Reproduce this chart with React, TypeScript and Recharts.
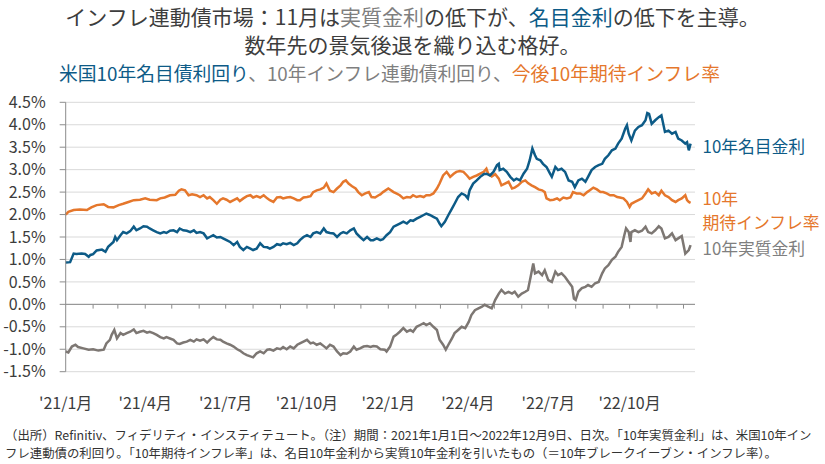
import React from 'react';
import { LineChart, Line, XAxis, YAxis, CartesianGrid, ReferenceLine } from 'recharts';

const FONT = '"Noto Sans CJK JP", "Noto Sans", sans-serif';
const BLUE = '#0d5b87';
const ORANGE = '#e5772c';
const GRAY = '#7d7773';
const GRAY_TEXT = '#7f7f7f';
const TEXT = '#3c3c3c';

// x = days since 2021-01-01
const nominalDays = [0, 5, 9, 12, 18, 22, 26, 28, 31, 35, 41, 45, 48, 54, 56, 58, 62, 65, 69, 73, 77, 80, 84, 88, 92, 95, 99, 103, 107, 111, 114, 118, 122, 126, 129, 133, 137, 141, 145, 148, 152, 156, 160, 163, 167, 171, 175, 178, 182, 186, 190, 194, 197, 201, 205, 209, 212, 216, 220, 224, 228, 231, 235, 239, 243, 246, 250, 254, 258, 262, 265, 269, 273, 277, 280, 284, 288, 292, 295, 299, 303, 307, 311, 314, 318, 322, 326, 329, 333, 337, 341, 345, 348, 352, 356, 359, 363, 367, 371, 374, 378, 382, 386, 390, 393, 397, 401, 405, 408, 412, 416, 420, 423, 425, 429, 433, 437, 440, 444, 448, 452, 455, 457, 461, 465, 469, 473, 476, 480, 484, 488, 490, 491, 495, 499, 503, 507, 510, 514, 518, 522, 525, 528, 531, 533, 537, 540, 544, 548, 550, 554, 557, 561, 565, 569, 573, 576, 580, 584, 588, 591, 595, 599, 603, 607, 610, 614, 618, 622, 625, 629, 633, 635, 637, 640, 644, 648, 652, 656, 658, 660, 663, 667, 671, 674, 678, 682, 686, 690, 693, 697, 701, 703, 705, 707];
const nominalYield = [0.93, 0.94, 1.13, 1.12, 1.13, 1.12, 1.06, 1.10, 1.12, 1.20, 1.22, 1.17, 1.28, 1.39, 1.50, 1.43, 1.54, 1.61, 1.58, 1.63, 1.73, 1.65, 1.69, 1.74, 1.73, 1.69, 1.65, 1.61, 1.58, 1.61, 1.59, 1.64, 1.65, 1.61, 1.69, 1.65, 1.64, 1.61, 1.65, 1.59, 1.61, 1.58, 1.47, 1.50, 1.54, 1.49, 1.50, 1.47, 1.43, 1.39, 1.32, 1.39, 1.28, 1.21, 1.28, 1.24, 1.21, 1.24, 1.36, 1.28, 1.27, 1.24, 1.28, 1.34, 1.32, 1.36, 1.34, 1.37, 1.32, 1.36, 1.43, 1.50, 1.54, 1.50, 1.58, 1.61, 1.58, 1.69, 1.61, 1.59, 1.58, 1.50, 1.58, 1.61, 1.58, 1.65, 1.69, 1.58, 1.50, 1.43, 1.50, 1.43, 1.43, 1.47, 1.43, 1.45, 1.54, 1.61, 1.73, 1.76, 1.80, 1.84, 1.80, 1.87, 1.86, 1.91, 1.95, 1.99, 2.02, 1.99, 1.95, 1.91, 1.80, 1.74, 1.84, 1.99, 2.13, 2.24, 2.39, 2.47, 2.43, 2.36, 2.54, 2.69, 2.76, 2.84, 2.90, 2.91, 2.87, 2.95, 3.10, 3.13, 2.99, 3.02, 2.95, 2.84, 2.76, 2.80, 2.76, 2.91, 3.02, 3.21, 3.47, 3.32, 3.24, 3.21, 3.13, 3.06, 2.91, 2.84, 3.06, 2.99, 3.02, 2.95, 2.76, 2.73, 2.61, 2.76, 2.80, 2.73, 2.84, 2.99, 3.06, 3.10, 3.13, 3.24, 3.32, 3.43, 3.47, 3.58, 3.69, 3.91, 3.99, 3.80, 3.65, 3.87, 3.95, 3.99, 4.10, 4.26, 4.24, 4.02, 4.10, 4.17, 4.21, 3.84, 3.87, 3.80, 3.84, 3.69, 3.65, 3.58, 3.61, 3.43, 3.58];

const breakevenDays = [0, 3, 9, 16, 24, 29, 35, 43, 48, 54, 60, 65, 71, 77, 84, 90, 95, 103, 107, 112, 118, 124, 128, 131, 135, 139, 143, 148, 152, 156, 160, 163, 167, 171, 175, 178, 182, 186, 190, 194, 197, 201, 205, 209, 212, 216, 220, 224, 228, 231, 235, 239, 243, 246, 250, 254, 258, 262, 265, 269, 273, 277, 280, 284, 288, 292, 295, 299, 303, 307, 311, 314, 317, 320, 324, 328, 331, 335, 339, 343, 346, 350, 354, 356, 359, 365, 371, 374, 378, 382, 386, 390, 393, 397, 401, 405, 408, 412, 416, 420, 423, 427, 431, 435, 439, 442, 446, 450, 454, 457, 461, 465, 469, 473, 476, 478, 482, 486, 490, 493, 497, 501, 505, 508, 512, 516, 520, 523, 527, 531, 535, 539, 542, 544, 548, 552, 556, 559, 563, 567, 571, 574, 578, 582, 586, 590, 593, 597, 601, 605, 608, 612, 616, 620, 624, 627, 631, 635, 638, 640, 644, 648, 652, 656, 659, 663, 667, 671, 674, 678, 682, 686, 690, 693, 697, 701, 703, 705, 707];
const breakevenRate = [2.00, 2.06, 2.10, 2.11, 2.10, 2.16, 2.21, 2.23, 2.17, 2.16, 2.21, 2.24, 2.28, 2.32, 2.33, 2.36, 2.33, 2.32, 2.36, 2.38, 2.43, 2.44, 2.53, 2.56, 2.54, 2.43, 2.45, 2.43, 2.39, 2.43, 2.36, 2.39, 2.32, 2.24, 2.33, 2.36, 2.33, 2.28, 2.32, 2.36, 2.30, 2.36, 2.41, 2.43, 2.38, 2.41, 2.38, 2.43, 2.36, 2.32, 2.28, 2.38, 2.39, 2.36, 2.38, 2.39, 2.36, 2.32, 2.32, 2.38, 2.39, 2.41, 2.50, 2.54, 2.56, 2.60, 2.69, 2.53, 2.50, 2.58, 2.65, 2.73, 2.76, 2.69, 2.63, 2.58, 2.50, 2.43, 2.47, 2.50, 2.39, 2.38, 2.43, 2.45, 2.50, 2.58, 2.50, 2.47, 2.43, 2.36, 2.39, 2.38, 2.43, 2.39, 2.41, 2.39, 2.43, 2.43, 2.47, 2.58, 2.69, 2.87, 2.95, 2.84, 2.91, 2.95, 2.97, 2.95, 2.87, 2.80, 2.84, 2.87, 2.91, 2.95, 3.02, 2.91, 2.85, 2.90, 2.80, 2.65, 2.69, 2.73, 2.58, 2.60, 2.65, 2.73, 2.76, 2.70, 2.65, 2.61, 2.56, 2.54, 2.50, 2.36, 2.32, 2.33, 2.36, 2.32, 2.38, 2.36, 2.38, 2.50, 2.47, 2.47, 2.43, 2.50, 2.54, 2.60, 2.56, 2.50, 2.50, 2.47, 2.43, 2.43, 2.39, 2.38, 2.36, 2.28, 2.17, 2.24, 2.28, 2.32, 2.36, 2.47, 2.56, 2.47, 2.50, 2.43, 2.53, 2.43, 2.39, 2.32, 2.28, 2.32, 2.36, 2.43, 2.32, 2.28, 2.26];

const realDays = [0, 3, 7, 11, 14, 20, 26, 31, 37, 43, 46, 50, 52, 55, 58, 62, 65, 69, 73, 77, 80, 84, 88, 92, 95, 99, 103, 107, 111, 114, 118, 122, 126, 129, 133, 137, 141, 145, 148, 152, 156, 160, 163, 167, 171, 175, 178, 182, 186, 190, 194, 197, 201, 205, 209, 212, 216, 220, 224, 228, 231, 235, 239, 243, 246, 250, 254, 258, 262, 265, 269, 273, 277, 280, 284, 288, 292, 295, 299, 303, 307, 311, 314, 318, 322, 326, 329, 333, 337, 341, 345, 348, 352, 356, 361, 363, 367, 371, 374, 378, 382, 386, 390, 393, 397, 401, 405, 408, 412, 416, 420, 423, 427, 430, 433, 437, 440, 444, 448, 452, 456, 459, 463, 467, 471, 474, 478, 482, 486, 490, 493, 497, 501, 505, 508, 512, 516, 520, 523, 526, 529, 531, 535, 539, 542, 546, 550, 554, 557, 561, 565, 569, 573, 575, 577, 580, 584, 588, 591, 595, 599, 603, 607, 610, 614, 618, 622, 625, 629, 632, 634, 637, 639, 640, 644, 648, 652, 656, 659, 663, 667, 671, 674, 678, 682, 686, 690, 693, 697, 701, 703, 705, 707];
const realYield = [-1.05, -1.07, -0.94, -0.90, -0.95, -0.98, -1.01, -1.00, -1.03, -1.01, -0.87, -0.79, -0.68, -0.57, -0.76, -0.64, -0.68, -0.64, -0.61, -0.56, -0.64, -0.61, -0.59, -0.63, -0.61, -0.64, -0.68, -0.73, -0.76, -0.73, -0.76, -0.79, -0.87, -0.88, -0.85, -0.83, -0.79, -0.83, -0.78, -0.81, -0.78, -0.85, -0.79, -0.73, -0.78, -0.79, -0.83, -0.87, -0.90, -0.94, -1.00, -1.03, -1.09, -1.13, -1.16, -1.18, -1.09, -1.05, -1.09, -1.01, -1.00, -1.03, -0.98, -1.00, -0.95, -1.00, -0.94, -0.98, -0.90, -0.87, -0.83, -0.79, -0.87, -0.85, -0.90, -0.87, -0.93, -0.98, -0.90, -0.94, -1.05, -1.13, -1.09, -1.10, -1.05, -0.94, -1.01, -0.98, -0.94, -0.93, -0.95, -0.93, -0.94, -1.00, -1.01, -1.05, -0.94, -0.72, -0.68, -0.61, -0.53, -0.61, -0.57, -0.61, -0.50, -0.46, -0.42, -0.46, -0.42, -0.50, -0.57, -0.79, -0.90, -1.01, -0.90, -0.76, -0.64, -0.57, -0.50, -0.53, -0.39, -0.24, -0.13, -0.09, -0.05, -0.01, -0.05, -0.09, 0.10, 0.24, 0.32, 0.24, 0.28, 0.24, 0.28, 0.17, 0.24, 0.28, 0.32, 0.61, 0.91, 0.69, 0.73, 0.65, 0.76, 0.54, 0.50, 0.73, 0.65, 0.69, 0.61, 0.50, 0.39, 0.13, 0.10, 0.28, 0.36, 0.39, 0.43, 0.39, 0.47, 0.50, 0.69, 0.80, 0.87, 0.99, 1.06, 1.17, 1.28, 1.54, 1.69, 1.61, 1.39, 1.61, 1.65, 1.61, 1.64, 1.73, 1.61, 1.58, 1.65, 1.74, 1.69, 1.47, 1.50, 1.58, 1.43, 1.47, 1.52, 1.13, 1.17, 1.21, 1.32];

const yTicks = [-1.5, -1.0, -0.5, 0, 0.5, 1.0, 1.5, 2.0, 2.5, 3.0, 3.5, 4.0, 4.5];
const xTickDays = [0, 90, 181, 273, 365, 455, 546, 638];
const xTickLabels = ["'21/1月", "'21/4月", "'21/7月", "'21/10月", "'22/1月", "'22/4月", "'22/7月", "'22/10月"];
const monthStartDays = [31, 59, 90, 120, 151, 181, 212, 243, 273, 304, 334, 365, 396, 424, 455, 485, 516, 546, 577, 608, 638, 669, 699];

const nominalLabel = ['10年名目金利'];
const breakevenLabel = ['10年', '期待インフレ率'];
const realLabel = ['10年実質金利'];

const toRows = (days: number[], vals: number[]) => days.map((d, i) => ({ d, v: vals[i] }));
const nominalData = toRows(nominalDays, nominalYield);
const breakevenData = toRows(breakevenDays, breakevenRate);
const realData = toRows(realDays, realYield);

const endLabel = (n: number, lines: string[], color: string, dy: number) => (props: any) => {
  if (props.index !== n - 1) return null;
  const x = (props.x ?? props.viewBox?.x) + 12;
  const y = (props.y ?? props.viewBox?.y) + dy;
  return (
    <g key="end">
      {lines.map((t, i) => (
        <text key={i} x={x} y={y + i * 24.5} fill={color} fontSize={16.8} fontFamily={FONT} dominantBaseline="central">
          {t}
        </text>
      ))}
    </g>
  );
};

const fmtY = (v: number) => `${v.toFixed(1)}%`;
const fmtX = (d: number) => xTickLabels[xTickDays.indexOf(d)] ?? '';

export default function App() {
  return (
    <div style={{ position: 'absolute', left: 0, top: 0, width: 825, height: 464, background: '#fff', fontFamily: FONT, overflow: 'hidden' }}>
      <div style={{ position: 'absolute', left: 0, top: 0 }}>
        <LineChart width={825} height={464} margin={{ top: 102.3, right: 130, bottom: 62.3, left: 0 }}>
          <CartesianGrid horizontal vertical={false} stroke="#d9d9d9" strokeWidth={1} />
          <XAxis
            type="number"
            dataKey="d"
            domain={[0, 712]}
            ticks={xTickDays}
            interval={0}
            tickFormatter={fmtX}
            axisLine={false}
            tickLine={false}
            tickSize={0}
            tickMargin={26}
            height={30}
            tick={{ fontSize: 16, fill: TEXT, fontFamily: FONT }}
            allowDuplicatedCategory={false}
          />
          <YAxis
            type="number"
            domain={[-1.5, 4.5]}
            ticks={yTicks}
            interval={0}
            tickFormatter={fmtY}
            width={65.7}
            axisLine={{ stroke: '#8c8c8c' }}
            tickLine={{ stroke: '#8c8c8c' }}
            tickSize={6}
            tickMargin={14}
            tick={{ fontSize: 16, fill: TEXT, fontFamily: FONT }}
          />
          <ReferenceLine y={0} stroke="#8c8c8c" strokeWidth={1} />
          {monthStartDays.map((d) => (
            <ReferenceLine key={d} segment={[{ x: d, y: 0 }, { x: d, y: -0.095 }]} stroke="#8c8c8c" strokeWidth={1} />
          ))}
          <Line
            data={realData}
            dataKey="v"
            type="linear"
            stroke={GRAY}
            strokeWidth={2.5}
            dot={false}
            isAnimationActive={false}
            label={endLabel(realData.length, realLabel, GRAY_TEXT, 3)}
          />
          <Line
            data={breakevenData}
            dataKey="v"
            type="linear"
            stroke={ORANGE}
            strokeWidth={2.5}
            dot={false}
            isAnimationActive={false}
            label={endLabel(breakevenData.length, breakevenLabel, ORANGE, -5)}
          />
          <Line
            data={nominalData}
            dataKey="v"
            type="linear"
            stroke={BLUE}
            strokeWidth={2.5}
            dot={false}
            isAnimationActive={false}
            label={endLabel(nominalData.length, nominalLabel, BLUE, 2)}
          />
        </LineChart>
      </div>
      <div style={{ position: 'absolute', left: 0, top: 2, width: 825, textAlign: 'center', fontSize: 21, lineHeight: '28px', color: '#3d3d3d', whiteSpace: 'nowrap' }}>
        インフレ連動債市場：11月は<span style={{ color: GRAY_TEXT }}>実質金利</span>の低下が、<span style={{ color: BLUE }}>名目金利</span>の低下を主導。
      </div>
      <div style={{ position: 'absolute', left: 0, top: 30, width: 825, textAlign: 'center', fontSize: 21, lineHeight: '28px', color: '#3d3d3d', whiteSpace: 'nowrap' }}>
        数年先の景気後退を織り込む格好。
      </div>
      <div style={{ position: 'absolute', left: 59, top: 62, fontSize: 18.8, lineHeight: '22px', whiteSpace: 'nowrap' }}>
        <span style={{ color: BLUE }}>米国10年名目債利回り</span>
        <span style={{ color: GRAY_TEXT }}>、10年インフレ連動債利回り、</span>
        <span style={{ color: ORANGE }}>今後10年期待インフレ率</span>
      </div>
      <div style={{ position: 'absolute', left: 5, top: 426, fontSize: 12.4, lineHeight: '18px', color: '#333', whiteSpace: 'nowrap' }}>
        （出所）Refinitiv、フィデリティ・インスティテュート。（注）期間：2021年1月1日～2022年12月9日、日次。「10年実質金利」は、米国10年イン
      </div>
      <div style={{ position: 'absolute', left: 5, top: 444, fontSize: 12.4, lineHeight: '18px', color: '#333', whiteSpace: 'nowrap' }}>
        フレ連動債の利回り。「10年期待インフレ率」は、名目10年金利から実質10年金利を引いたもの（＝10年ブレークイーブン・インフレ率）。
      </div>
    </div>
  );
}
